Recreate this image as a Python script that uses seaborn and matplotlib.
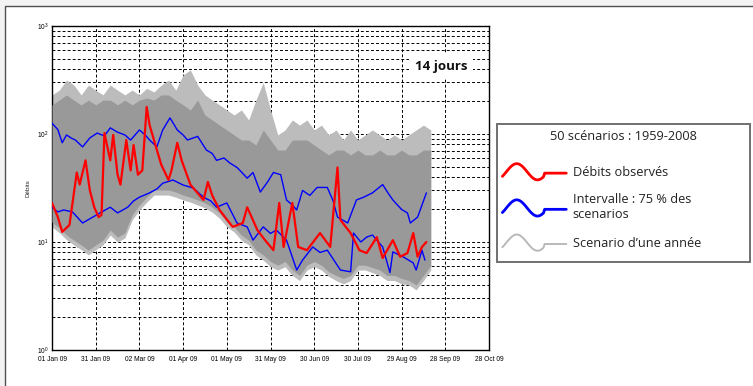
import numpy as np
import pandas as pd
import seaborn as sns
import matplotlib
matplotlib.use('Agg')
import matplotlib.pyplot as plt
import matplotlib.dates as mdates
from matplotlib.lines import Line2D
from matplotlib.patches import Rectangle
from matplotlib.legend_handler import HandlerBase

# Data (days after 01 Jan 2009, flows on a log axis)
env_days = list(range(0, 261, 5))
# dense core of the 50 scenarios
core_top = [186, 206, 230, 206, 186, 206, 186, 206, 206, 186, 206, 186, 206, 215, 206, 230, 230, 206,
            186, 167, 206, 150, 135, 121, 109, 98, 88, 88, 79, 109, 88, 71, 71, 88, 88, 88, 79, 71,
            64, 71, 71, 64, 71, 64, 64, 71, 64, 64, 71, 64, 64, 71, 71]
core_bottom = [15.3, 13.5, 11.6, 10.4, 9.4, 8.4, 9.4, 10.4, 12.9, 11.1, 12.1, 17.8, 22, 26, 30.3, 30.3,
               30.3, 29, 27.2, 26, 24.5, 23, 21, 18.5, 15.3, 13.8, 11.6, 10.4, 8.4, 7.6, 6.6, 6.1, 6.6,
               5.5, 4.9, 6.1, 6.6, 6.1, 5.3, 4.9, 4.6, 4.9, 6.1, 6.1, 5.8, 5.5, 4.9, 4.9, 4.6, 4.4,
               4.0, 4.9, 6.1]
# outer silhouette of the lightest scenario lines
outer_top = [230, 255, 316, 284, 230, 284, 255, 230, 284, 255, 230, 255, 230, 265, 245, 284, 316, 255,
             352, 392, 284, 230, 206, 186, 167, 150, 167, 135, 206, 300, 167, 98, 109, 135, 121, 135,
             109, 121, 98, 109, 88, 109, 88, 98, 109, 98, 88, 98, 88, 98, 109, 121, 109]
outer_bottom = [13.8, 12.2, 10.5, 9.4, 8.5, 7.6, 8.5, 9.4, 11.6, 10.0, 10.9, 16.0, 19.8, 23.4, 27.2,
                27.2, 27.2, 26, 24.5, 23.4, 22, 20.7, 18.9, 16.6, 13.8, 12.4, 10.4, 9.4, 7.6, 6.8, 5.9,
                5.5, 5.9, 4.9, 4.4, 5.5, 5.9, 5.5, 4.8, 4.4, 4.1, 4.4, 5.5, 5.5, 5.2, 4.9, 4.4, 4.4,
                4.1, 4.0, 3.6, 4.4, 5.5]

upper_days = [0, 4, 7, 10, 13, 16, 21, 26, 31, 36, 40, 45, 50, 54, 60, 64, 67, 72, 76, 81, 86, 90, 93,
              100, 106, 110, 113, 118, 122, 127, 129, 134, 138, 143, 148, 152, 157, 161, 165, 168,
              172, 177, 182, 189, 193, 196, 203, 209, 214, 220, 227, 231, 234, 240, 244, 246, 251, 257]
upper_vals = [126, 110, 83, 98, 92, 88, 76, 92, 102, 96, 114, 104, 98, 88, 109, 98, 88, 76, 109, 141, 109,
              98, 88, 95, 71, 66, 57, 60, 54, 49, 46, 39, 44, 29, 36, 44, 42, 24.5, 22, 19.8, 30, 27, 32,
              32, 24, 17, 15, 24.5, 26, 28.5, 34, 28, 24.5, 20, 18.6, 15, 17, 28.5]

lower_days = [0, 4, 8, 14, 21, 28, 33, 40, 45, 52, 56, 60, 67, 72, 76, 83, 90, 97, 104, 109, 113, 120,
              127, 134, 138, 145, 150, 154, 161, 168, 172, 179, 184, 189, 198, 205, 207, 212, 216, 220,
              227, 232, 234, 241, 248, 250, 254, 256]
lower_vals = [21, 19, 19.8, 19, 15, 17, 18.6, 21, 18.6, 21, 24, 26, 28.5, 31, 35, 37.5, 33.7, 31.6, 26,
              24, 21, 23, 15, 13.8, 10.4, 13.8, 12, 12.9, 10.4, 5.5, 6.8, 9, 8, 8.4, 5.5, 5.3, 12.1, 10,
              11.1, 11.6, 9, 5.2, 8.1, 7.3, 6.4, 5.5, 8.4, 6.8]

obs_days = [0, 4, 7, 12, 17, 19, 23, 26, 29, 32, 34, 36, 40, 42, 45, 47, 51, 54, 56, 59, 62, 65, 67, 71,
            75, 80, 82, 86, 89, 95, 104, 107, 110, 115, 124, 131, 134, 141, 146, 152, 156, 159, 165,
            169, 175, 184, 191, 196, 198, 205, 211, 216, 223, 227, 234, 239, 244, 248, 251, 254, 257]
obs_vals = [23, 17, 12.4, 14.4, 44, 34, 57, 30, 21, 17, 17.8, 102, 57, 98, 42, 34, 88, 46, 79, 42, 46,
            178, 121, 79, 52, 37.5, 46, 83, 57, 34, 24.5, 36, 27, 19.8, 13.8, 15, 21, 12.9, 10.5, 8.4,
            23, 9, 23, 9, 8.4, 12.1, 9, 49, 16, 12.1, 8.4, 7.9, 11.1, 7.1, 10.4, 7.3, 7.9, 12.1, 7.3,
            9, 10]

legend_title = '50 scénarios : 1959-2008'
legend_labels = ['Débits observés', 'Intervalle : 75 % des\nscenarios', 'Scenario d\u2019une année']

start = pd.Timestamp('2009-01-01')
tick_dates = pd.date_range(start, periods=11, freq='30D')


def to_dates(days):
    return start + pd.to_timedelta(days, unit='D')


class WaveHandler(HandlerBase):
    # wavy sample line like the hand-drawn legend
    def create_artists(self, legend, orig_handle, xdescent, ydescent, width, height, fontsize, trans):
        t = np.linspace(0, 1, 60)
        y = np.where(t < 0.65, np.sin(t / 0.65 * 2 * np.pi - 0.6), np.sin(2 * np.pi - 0.6) * 0.3)
        xs = -xdescent + width * t
        ys = -ydescent + height / 2 + height * 0.55 * y
        line = Line2D(xs, ys, color=orig_handle.get_color(), lw=orig_handle.get_linewidth(),
                      solid_capstyle='round')
        line.set_transform(trans)
        return [line]


sns.set_theme(style='white')
plt.rcParams['font.family'] = ['Liberation Sans', 'DejaVu Sans']
leg_font = ['Open Sans', 'DejaVu Sans']

fig = plt.figure(figsize=(7.53, 3.86), dpi=100, facecolor='#f3f3f3')
fig.patches.append(Rectangle((5 / 753, -0.1), 1.1, 1 - 6 / 386 + 0.1, transform=fig.transFigure,
                             facecolor='white', edgecolor='#505050', lw=1.0, zorder=-10))
ax = fig.add_axes([52 / 753, 36 / 386, 437 / 753, 324 / 386])

ed = to_dates(env_days)
ax.fill_between(ed, outer_bottom, outer_top, color='#bcbcbc', lw=0, zorder=2)
ax.fill_between(ed, core_bottom, core_top, color='#999999', lw=0, zorder=3)

sns.lineplot(x=to_dates(upper_days), y=upper_vals, ax=ax, color='#0000ff', lw=1.0, zorder=4)
sns.lineplot(x=to_dates(lower_days), y=lower_vals, ax=ax, color='#0000ff', lw=1.0, zorder=4)
sns.lineplot(x=to_dates(obs_days), y=obs_vals, ax=ax, color='#ff0000', lw=1.6, zorder=5)

ax.set_yscale('log')
ax.set_ylim(1, 1000)
ax.set_xlim(tick_dates[0], tick_dates[-1])
ax.set_xticks(tick_dates)
ax.xaxis.set_major_formatter(mdates.DateFormatter('%d %b %y'))
ax.tick_params(axis='both', which='both', labelsize=4.8, direction='in', length=2, width=0.6,
               pad=2, colors='black')
ax.tick_params(axis='x', pad=4.5)
ax.tick_params(axis='y', which='minor', length=1.2)
ax.grid(True, which='both', axis='y', color='black', lw=0.7, ls=(0, (3, 2.2)), zorder=1)
ax.grid(True, which='major', axis='x', color='black', lw=0.7, ls=(0, (3, 2.2)), zorder=1)
ax.set_axisbelow(True)
for s in ax.spines.values():
    s.set_color('black')
    s.set_linewidth(1.0)
ax.set_xlabel('')
ax.set_ylabel('Débits', fontsize=4.5, labelpad=5)

ax.text(0.89, 0.875, '14 jours', transform=ax.transAxes, ha='center', va='center', fontsize=9.5,
        fontweight='bold', family=leg_font, color='#111111', zorder=6,
        bbox=dict(facecolor='white', edgecolor='none', pad=4))

# legend box outside the axes
fig.patches.append(Rectangle((497 / 753, 1 - 262 / 386), 253 / 753, 138 / 386,
                             transform=fig.transFigure, facecolor='white', edgecolor='#707070',
                             lw=1.4, zorder=5))
fig.text(623 / 753, 1 - 137 / 386, legend_title, ha='center', va='center', fontsize=9.2,
         family=leg_font, color='#222222', zorder=7)
handles = [Line2D([], [], color='#ff0000', lw=2.0),
           Line2D([], [], color='#0000ff', lw=2.0),
           Line2D([], [], color='#b8b8b8', lw=1.4)]
leg = fig.legend(handles, legend_labels, loc='upper left', bbox_to_anchor=(496 / 753, 1 - 158 / 386),
                 frameon=False, handler_map={Line2D: WaveHandler()}, borderpad=0,
                 handlelength=5.0, handleheight=1.4, handletextpad=0.5, labelspacing=1.1,
                 prop={'family': leg_font, 'size': 9.2})
for txt in leg.get_texts():
    txt.set_color('#222222')
leg.set_zorder(6)

fig.savefig('out.png', dpi=100, facecolor=fig.get_facecolor())
